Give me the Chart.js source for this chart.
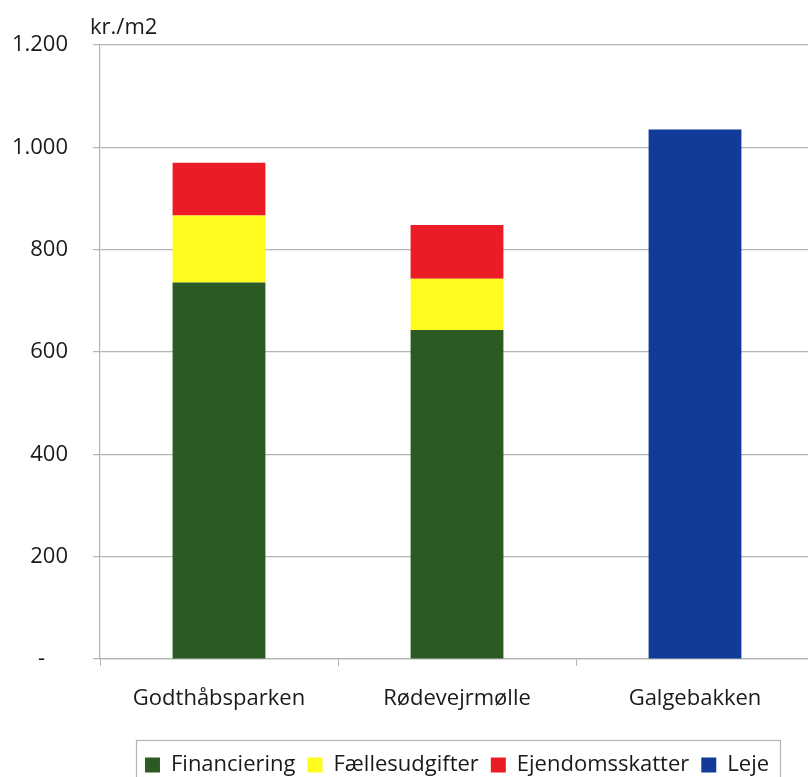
<!DOCTYPE html>
<html>
<head>
<meta charset="utf-8">
<script src="https://cdn.jsdelivr.net/npm/chart.js@4/dist/chart.umd.min.js"></script>
<style>
  html, body { margin: 0; padding: 0; background: #fff; overflow: hidden; }
  #wrap { position: relative; width: 818px; height: 786px; }
</style>
</head>
<body>
<div id="wrap"><canvas id="c"></canvas></div>
<script>
// Boligudgifter pr. m2 for tre bebyggelser
const categories = ['Godthåbsparken', 'Rødevejrmølle', 'Galgebakken'];
const financiering = [736, 643, null];
const faellesudgifter = [131, 100, null];
const ejendomsskatter = [103, 105, null];
const leje = [null, null, 1035];
const yTicks = [0, 200, 400, 600, 800, 1000, 1200];
const unitLabel = 'kr./m2';

const FONT = '"Open Sans", "Liberation Sans", sans-serif';

function daNumber(v) {
  if (v === 0) return '-    ';
  return v.toLocaleString('da-DK');
}

// Frame around the legend items and the unit label above the value axis
const decorations = {
  id: 'decorations',
  afterDraw(chart) {
    const ctx = chart.ctx;
    const area = chart.chartArea;
    ctx.save();
    ctx.fillStyle = '#1a1a1a';
    ctx.font = '22px ' + FONT;
    ctx.textAlign = 'left';
    ctx.textBaseline = 'middle';
    ctx.fillText(unitLabel, area.left - 10, area.top - 17);

    const lg = chart.legend;
    if (lg && lg.legendHitBoxes && lg.legendHitBoxes.length) {
      let l = Infinity, r = -Infinity;
      lg.legendHitBoxes.forEach(b => { l = Math.min(l, b.left); r = Math.max(r, b.left + b.width); });
      ctx.strokeStyle = '#b4b4b4';
      ctx.lineWidth = 1.2;
      ctx.strokeRect(Math.round(l - 9) + 0.5, Math.round(lg.top) - 1.5, Math.round(r - l + 20), 70);
    }
    ctx.restore();
  }
};

new Chart(document.getElementById('c'), {
  type: 'bar',
  data: {
    labels: categories,
    datasets: [
      { label: 'Financiering', data: financiering, backgroundColor: '#2b5a22' },
      { label: 'Fællesudgifter', data: faellesudgifter, backgroundColor: '#fffb1e' },
      { label: 'Ejendomsskatter', data: ejendomsskatter, backgroundColor: '#ec1c26' },
      { label: 'Leje', data: leje, backgroundColor: '#123a98' }
    ]
  },
  options: {
    responsive: true,
    maintainAspectRatio: false,
    animation: false,
    devicePixelRatio: 1,
    layout: { padding: { top: 45, right: 4, left: 0, bottom: 0 } },
    datasets: { bar: { categoryPercentage: 1, barPercentage: 0.39, borderWidth: 0 } },
    plugins: {
      tooltip: { enabled: false },
      title: { display: false },
      legend: {
        position: 'bottom',
        fullSize: false,
        labels: {
          font: { family: FONT, size: 22 },
          color: '#1a1a1a',
          boxWidth: 15,
          boxHeight: 15,
          padding: 12,
          useBorderRadius: false
        }
      }
    },
    scales: {
      x: {
        stacked: true,
        grid: { display: true, offset: true, drawOnChartArea: false, drawTicks: true, tickLength: 7, color: '#b4b4b4' },
        border: { display: true, color: '#b4b4b4', width: 1.2 },
        ticks: { font: { family: FONT, size: 22 }, color: '#1a1a1a', padding: 20, maxRotation: 0 },
        afterFit(scale) { scale.height = 83; }
      },
      y: {
        stacked: true,
        min: 0,
        max: 1200,
        afterBuildTicks(scale) { scale.ticks = yTicks.map(v => ({ value: v })); },
        afterFit(scale) { scale.width = 100; },
        grid: { color: '#b4b4b4', lineWidth: 1.2, tickLength: 7, drawTicks: true },
        border: { display: true, color: '#b4b4b4', width: 1.2 },
        ticks: {
          font: { family: FONT, size: 22 },
          color: '#1a1a1a',
          padding: 25,
          callback: v => daNumber(v)
        }
      }
    }
  },
  plugins: [decorations]
});
</script>
</body>
</html>
